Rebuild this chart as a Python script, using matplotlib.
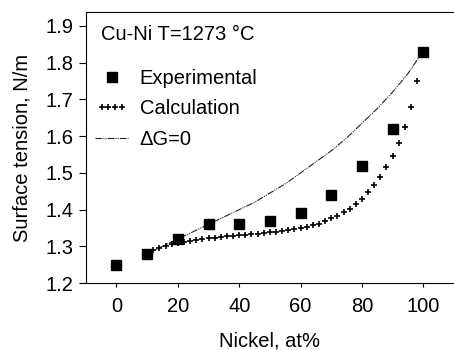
import matplotlib
matplotlib.use("Agg")
import matplotlib.pyplot as plt
from matplotlib.legend_handler import HandlerLine2D

plt.rcParams["font.family"] = ["Liberation Sans", "DejaVu Sans"]

# ---------------------------------------------------------------------------
# Data
# ---------------------------------------------------------------------------
exp_x = [0, 10, 20, 30, 40, 50, 60, 70, 80, 90, 100]
exp_y = [1.25, 1.28, 1.32, 1.36, 1.36, 1.37, 1.39, 1.44, 1.52, 1.62, 1.83]

calc_x = [10, 12, 14, 16, 18, 20, 22, 24, 26, 28, 30, 32, 34, 36, 38, 40,
          42, 44, 46, 48, 50, 52, 54, 56, 58, 60, 62, 64, 66, 68, 70, 72,
          74, 76, 78, 80, 82, 84, 86, 88, 90, 92, 94, 96, 98]
calc_y = [1.280, 1.290, 1.296, 1.301, 1.306, 1.310, 1.313, 1.316, 1.318,
          1.320, 1.322, 1.323, 1.325, 1.327, 1.328, 1.330, 1.331, 1.333,
          1.335, 1.336, 1.338, 1.340, 1.342, 1.344, 1.347, 1.350, 1.353,
          1.357, 1.362, 1.368, 1.376, 1.384, 1.393, 1.403, 1.415, 1.430,
          1.447, 1.467, 1.490, 1.515, 1.546, 1.580, 1.625, 1.680, 1.750]

dg_x = [10, 15, 20, 25, 30, 35, 40, 45, 50, 55, 60, 65, 70, 75, 80, 85, 90, 95, 99]
dg_y = [1.28, 1.30, 1.32, 1.34, 1.36, 1.38, 1.40, 1.42, 1.445, 1.47, 1.50,
        1.53, 1.56, 1.595, 1.635, 1.675, 1.72, 1.77, 1.82]

FONT_SIZE = 14.5

# ---------------------------------------------------------------------------
# Plot
# ---------------------------------------------------------------------------
fig = plt.figure(figsize=(4.54, 3.5), dpi=100)
ax = fig.add_axes([0.189, 0.191, 0.811, 0.775])

dg_line, = ax.plot(dg_x, dg_y, color="#222222", linewidth=0.8,
                   linestyle=(0, (6, 1, 1, 1, 1, 1)), label="\u0394G=0")
calc_line, = ax.plot(calc_x, calc_y, "+", color="black", markersize=5,
                     markeredgewidth=1.2, label="Calculation")
exp_line, = ax.plot(exp_x, exp_y, "s", color="black", markersize=6.5,
                    label="Experimental")

ax.set_xlim(-10, 110)
ax.set_ylim(1.2, 1.938)
ax.set_xticks(range(0, 101, 20))
ax.set_yticks([1.2, 1.3, 1.4, 1.5, 1.6, 1.7, 1.8, 1.9])
ax.tick_params(axis="y", direction="out", length=5, pad=4, labelsize=FONT_SIZE)
ax.tick_params(axis="x", direction="out", length=3, pad=7, labelsize=FONT_SIZE)
ax.spines["right"].set_visible(False)

ax.set_xlabel("Nickel, at%", fontsize=FONT_SIZE, labelpad=11)
ax.set_ylabel("Surface tension, N/m", fontsize=FONT_SIZE, labelpad=10)

ax.text(0.041, 0.915, "Cu-Ni T=1273 \u00b0C", transform=ax.transAxes,
        fontsize=FONT_SIZE, va="center", ha="left")

ax.legend(handles=[exp_line, calc_line, dg_line], loc="upper left",
          bbox_to_anchor=(-0.012, 0.84), frameon=False, fontsize=FONT_SIZE,
          handlelength=1.6, handletextpad=0.6, labelspacing=0.55,
          borderaxespad=0.3,
          handler_map={calc_line: HandlerLine2D(numpoints=4)})

fig.savefig("out.png", dpi=100)
